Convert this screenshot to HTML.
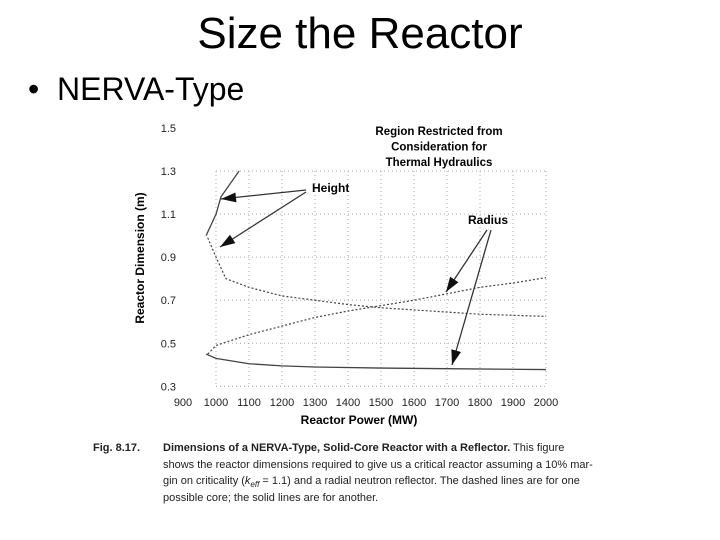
<!DOCTYPE html>
<html><head><meta charset="utf-8"><style>
body{margin:0;width:720px;height:540px;background:#fff;overflow:hidden;font-family:"Liberation Sans",sans-serif;position:relative}
.t{position:absolute;white-space:nowrap}
</style></head><body>
<div class="t" style="left:0;width:720px;text-align:center;top:9px;font-size:44px">Size the Reactor</div>
<div class="t" style="left:28px;top:71px;font-size:32px">•&nbsp;&nbsp;NERVA-Type</div>
<svg id="c" width="720" height="540" style="position:absolute;left:0;top:0" font-family="Liberation Sans, sans-serif"></svg>
<div style="position:absolute;left:93px;top:440px;font-size:11px;line-height:16.5px;color:#222">
<span style="position:absolute;left:0;top:0;font-weight:bold;white-space:nowrap">Fig. 8.17.</span>
<div style="position:absolute;left:70px;top:0;white-space:nowrap"><b>Dimensions of a NERVA-Type, Solid-Core Reactor with a Reflector.</b> This figure<br>shows the reactor dimensions required to give us a critical reactor assuming a 10% mar-<br>gin on criticality (<i>k<sub style="font-size:8px;line-height:0">eff</sub></i> = 1.1) and a radial neutron reflector. The dashed lines are for one<br>possible core; the solid lines are for another.</div>
</div>
<script>
const xTicks=[900,1000,1100,1200,1300,1400,1500,1600,1700,1800,1900,2000];
const yTicks=[0.3,0.5,0.7,0.9,1.1,1.3,1.5];
const heightSolidX=[970,1000,1015,1070];
const heightSolidY=[1.0,1.1,1.18,1.3];
const heightDashX=[975,1000,1030,1100,1200,1300,1400,1500,1600,1700,1800,1900,2000];
const heightDashY=[0.99,0.90,0.80,0.76,0.72,0.70,0.68,0.665,0.655,0.645,0.635,0.63,0.625];
const radiusDashX=[975,1000,1100,1200,1300,1400,1500,1600,1700,1800,1900,2000];
const radiusDashY=[0.45,0.49,0.54,0.58,0.62,0.65,0.675,0.70,0.73,0.76,0.78,0.805];
const radiusSolidX=[970,1000,1100,1200,1300,1500,1700,2000];
const radiusSolidY=[0.45,0.43,0.405,0.395,0.39,0.385,0.382,0.378];
const X=v=>183+(v-900)*0.33, Y=v=>128+(1.5-v)*215.3;
const s=document.getElementById('c'),NS='http://www.w3.org/2000/svg';
function mk(t,a,txt){const e=document.createElementNS(NS,t);for(const k in a)e.setAttribute(k,a[k]);if(txt!=null)e.textContent=txt;s.appendChild(e);return e;}
yTicks.forEach(v=>{
 if(v<1.45){const g=mk('line',{x1:X(1000),x2:X(2000),y1:Y(v),y2:Y(v),stroke:'#aaa','stroke-width':1,'stroke-dasharray':'1 3'});
 }
 const t=mk('text',{x:176,y:Y(v)+4,'font-size':11,'text-anchor':'end',fill:'#222'},v.toFixed(1));
 
});
xTicks.forEach(v=>{
 if(v>=1000){const g=mk('line',{x1:X(v),x2:X(v),y1:Y(1.3),y2:Y(0.3),stroke:'#aaa','stroke-width':1,'stroke-dasharray':'1 3'});
 }
 const t=mk('text',{x:X(v),y:406,'font-size':11,'text-anchor':'middle',fill:'#222'},v);
 
});
function line(xs,ys,dash,name){const p=mk('polyline',{points:xs.map((x,i)=>X(x)+','+Y(ys[i])).join(' '),fill:'none',stroke:'#444','stroke-width':dash?1.2:1.3,'stroke-dasharray':dash?'2 2':''});
 }
line(heightSolidX,heightSolidY,false,'height-solid-line');
line(heightDashX,heightDashY,true,'height-dashed-line');
line(radiusDashX,radiusDashY,true,'radius-dashed-line');
line(radiusSolidX,radiusSolidY,false,'radius-solid-line');
let t=mk('text',{x:359,y:424,'font-size':12,'font-weight':'bold','text-anchor':'middle'},'Reactor Power (MW)');

t=mk('text',{x:0,y:0,'font-size':12,'font-weight':'bold','text-anchor':'middle',transform:'translate(144,258) rotate(-90)'},'Reactor Dimension (m)');

['Region Restricted from','Consideration for','Thermal Hydraulics'].forEach((l,i)=>{
 const e=mk('text',{x:439,y:135+i*15.5,'font-size':11.5,'font-weight':'bold','text-anchor':'middle'},l);
 });
t=mk('text',{x:312,y:192,'font-size':12,'font-weight':'bold'},'Height');
t=mk('text',{x:468,y:224,'font-size':12,'font-weight':'bold'},'Radius');
function arrow(x1,y1,x2,y2,name){const a=mk('line',{x1,y1,x2,y2,stroke:'#333','stroke-width':1.3});
 
 const an=Math.atan2(y2-y1,x2-x1),L=15,W=5;
 const bx=x2-L*Math.cos(an),by=y2-L*Math.sin(an);
 const h=mk('polygon',{points:`${x2},${y2} ${bx+W*Math.sin(an)},${by-W*Math.cos(an)} ${bx-W*Math.sin(an)},${by+W*Math.cos(an)}`,fill:'#111'});
 }
arrow(306,190,221,199,'height-arrow-solid');
arrow(306,192,220,247,'height-arrow-dashed');
arrow(487,230,446,292,'radius-arrow-dashed');
arrow(491,230,452,365,'radius-arrow-solid');
</script>
</body></html>
